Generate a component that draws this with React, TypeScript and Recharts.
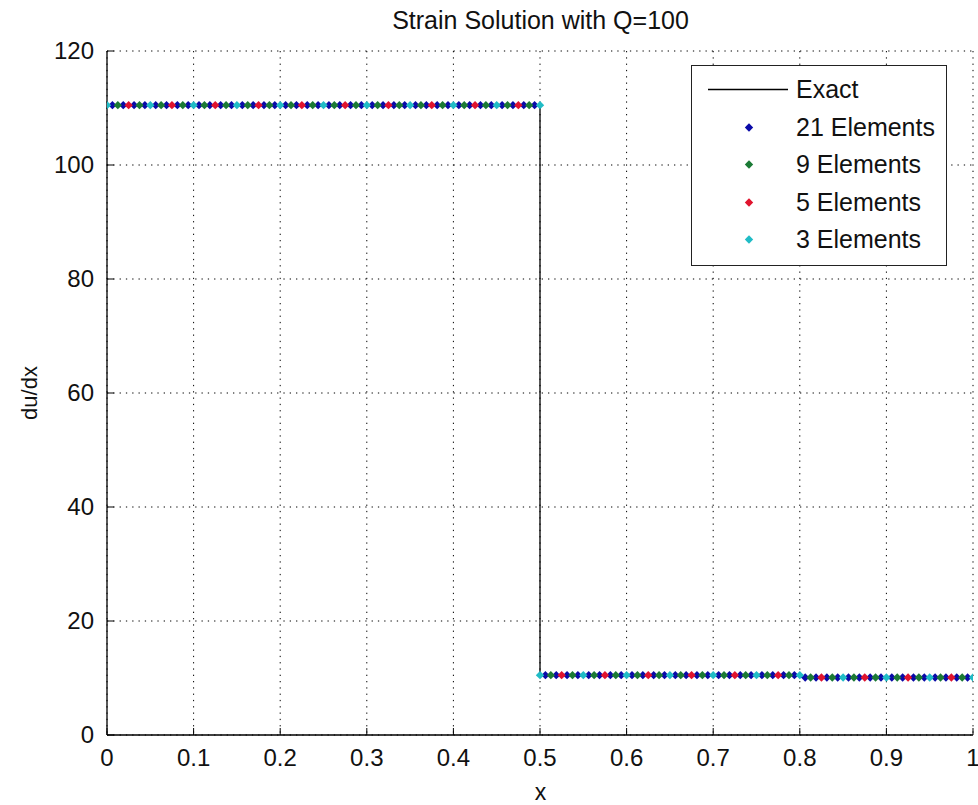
import React from "react";
import { ComposedChart, Line, Scatter, XAxis, YAxis, CartesianGrid } from "recharts";

const FONT = '"Liberation Sans", Arial, Helvetica, sans-serif';

const xTicks = [0, 0.1, 0.2, 0.3, 0.4, 0.5, 0.6, 0.7, 0.8, 0.9, 1];
const yTicks = [0, 20, 40, 60, 80, 100, 120];

// exact strain: piecewise constant
const stepEdges = [0, 0.5, 0.8, 1];
const stepLevels = [110.5, 10.5, 10.1];

// sample positions of each FE solution
const nodes3 = [0, 0.05, 0.1, 0.15, 0.2, 0.25, 0.3, 0.35, 0.4, 0.45, 0.5, 0.5, 0.55, 0.6, 0.65, 0.7, 0.75, 0.8, 0.85, 0.9, 0.95, 1];
const nodes5 = [0.025, 0.075, 0.125, 0.175, 0.225, 0.275, 0.325, 0.375, 0.425, 0.475, 0.525, 0.575, 0.625, 0.675, 0.725, 0.775, 0.825, 0.875, 0.925, 0.975];
const nodes9 = [
  0.0125, 0.0375, 0.0625, 0.0875, 0.1125, 0.1375, 0.1625, 0.1875, 0.2125, 0.2375,
  0.2625, 0.2875, 0.3125, 0.3375, 0.3625, 0.3875, 0.4125, 0.4375, 0.4625, 0.4875,
  0.5125, 0.5375, 0.5625, 0.5875, 0.6125, 0.6375, 0.6625, 0.6875, 0.7125, 0.7375,
  0.7625, 0.7875, 0.8125, 0.8375, 0.8625, 0.8875, 0.9125, 0.9375, 0.9625, 0.9875,
];
const nodes21 = [
  0.00625, 0.01875, 0.03125, 0.04375, 0.05625, 0.06875, 0.08125, 0.09375,
  0.10625, 0.11875, 0.13125, 0.14375, 0.15625, 0.16875, 0.18125, 0.19375,
  0.20625, 0.21875, 0.23125, 0.24375, 0.25625, 0.26875, 0.28125, 0.29375,
  0.30625, 0.31875, 0.33125, 0.34375, 0.35625, 0.36875, 0.38125, 0.39375,
  0.40625, 0.41875, 0.43125, 0.44375, 0.45625, 0.46875, 0.48125, 0.49375,
  0.50625, 0.51875, 0.53125, 0.54375, 0.55625, 0.56875, 0.58125, 0.59375,
  0.60625, 0.61875, 0.63125, 0.64375, 0.65625, 0.66875, 0.68125, 0.69375,
  0.70625, 0.71875, 0.73125, 0.74375, 0.75625, 0.76875, 0.78125, 0.79375,
  0.80625, 0.81875, 0.83125, 0.84375, 0.85625, 0.86875, 0.88125, 0.89375,
  0.90625, 0.91875, 0.93125, 0.94375, 0.95625, 0.96875, 0.98125, 0.99375,
];

const seriesNames = ["21 Elements", "9 Elements", "5 Elements", "3 Elements"];
const seriesColors = ["#0a0aa8", "#1b7a35", "#e0142e", "#20bcc6"];
const seriesNodes = [nodes21, nodes9, nodes5, nodes3];

const levelAt = (x: number) => {
  for (let i = 0; i < stepLevels.length; i++) {
    if (x <= stepEdges[i + 1]) return stepLevels[i];
  }
  return stepLevels[stepLevels.length - 1];
};

const exactData = stepLevels.flatMap((lv, i) => [
  { x: stepEdges[i], y: lv },
  { x: stepEdges[i + 1], y: lv },
]);

const seriesData = seriesNodes.map((nodes) =>
  nodes.map((x, i) => {
    // duplicate node at the jump: second copy takes the right-hand value
    const jump = x === 0.5 && nodes[i - 1] === 0.5;
    return { x, y: jump ? stepLevels[1] : levelAt(x) };
  })
);

const TICK = 7;
const fmtX = (v: number) => (v === 0 || v === 1 ? String(v) : v.toFixed(1));

const BottomTick = ({ x, y, payload }: any) => (
  <g>
    <line x1={x} y1={y} x2={x} y2={y - TICK} stroke="#000" />
    <text x={x} y={y + 31} textAnchor="middle" fontSize={24} fontFamily={FONT} fill="#111">
      {fmtX(payload.value)}
    </text>
  </g>
);
const TopTick = ({ x, y }: any) => <line x1={x} y1={y} x2={x} y2={y + TICK} stroke="#000" />;
const LeftTick = ({ x, y, payload }: any) => (
  <g>
    <line x1={x} y1={y} x2={x + TICK} y2={y} stroke="#000" />
    <text x={x - 13} y={y + 8} textAnchor="end" fontSize={24} fontFamily={FONT} fill="#111">
      {payload.value}
    </text>
  </g>
);
const RightTick = ({ x, y }: any) => <line x1={x} y1={y} x2={x - TICK} y2={y} stroke="#000" />;

const diamond = (color: string) => (props: any) => {
  const { cx, cy } = props;
  const r = 4.2;
  return <polygon points={`${cx},${cy - r} ${cx + r},${cy} ${cx},${cy + r} ${cx - r},${cy}`} fill={color} />;
};

export default function App() {
  return (
    <div style={{ position: "absolute", left: 0, top: 0, width: 978, height: 805, background: "#fff", fontFamily: FONT }}>
      <ComposedChart width={978} height={805} margin={{ top: 51, right: 5, bottom: 0, left: 0 }}>
        <CartesianGrid stroke="#000" strokeDasharray="1.3 5" />
        <XAxis
          type="number"
          dataKey="x"
          domain={[0, 1]}
          ticks={xTicks}
          interval={0}
          height={70}
          tickSize={0}
          tickMargin={0}
          tickLine={false}
          tick={<BottomTick />}
          axisLine={{ stroke: "#000", strokeWidth: 1.3 }}
          allowDataOverflow
        />
        <XAxis
          xAxisId="top"
          orientation="top"
          type="number"
          domain={[0, 1]}
          ticks={xTicks}
          interval={0}
          height={0}
          tickSize={0}
          tickMargin={0}
          tickLine={false}
          tick={<TopTick />}
          axisLine={{ stroke: "#000", strokeWidth: 1.3 }}
        />
        <YAxis
          type="number"
          domain={[0, 120]}
          ticks={yTicks}
          interval={0}
          width={107}
          tickSize={0}
          tickMargin={0}
          tickLine={false}
          tick={<LeftTick />}
          axisLine={{ stroke: "#000", strokeWidth: 1.3 }}
          allowDataOverflow
        />
        <YAxis
          yAxisId="right"
          orientation="right"
          type="number"
          domain={[0, 120]}
          ticks={yTicks}
          interval={0}
          width={0}
          tickSize={0}
          tickMargin={0}
          tickLine={false}
          tick={<RightTick />}
          axisLine={{ stroke: "#000", strokeWidth: 1.3 }}
        />
        <Line
          data={exactData}
          dataKey="y"
          type="linear"
          stroke="#000"
          strokeWidth={1.3}
          dot={false}
          isAnimationActive={false}
        />
        {seriesData.map((d, i) => (
          <Scatter
            key={seriesNames[i]}
            name={seriesNames[i]}
            data={d}
            dataKey="y"
            fill={seriesColors[i]}
            shape={diamond(seriesColors[i])}
            isAnimationActive={false}
          />
        ))}
      </ComposedChart>

      <div style={{ position: "absolute", left: 0, width: 1081, top: 6, textAlign: "center", fontSize: 25, color: "#111" }}>
        Strain Solution with Q=100
      </div>
      <div style={{ position: "absolute", left: 0, width: 1081, top: 779, textAlign: "center", fontSize: 23, color: "#111" }}>
        x
      </div>
      <div
        style={{
          position: "absolute",
          left: 30,
          top: 393,
          transform: "translate(-50%, -50%) rotate(-90deg)",
          fontSize: 22,
          color: "#111",
          whiteSpace: "nowrap",
        }}
      >
        du/dx
      </div>

      <div
        style={{
          position: "absolute",
          left: 691,
          top: 65,
          width: 254,
          height: 194,
          border: "1.5px solid #222",
          background: "#fff",
          paddingTop: 5,
          boxSizing: "content-box",
        }}
      >
        {["Exact", ...seriesNames].map((name, i) => (
          <div key={name} style={{ display: "flex", alignItems: "center", height: 37.5, fontSize: 25, color: "#111" }}>
            <svg width={104} height={37} style={{ flex: "none" }}>
              {i === 0 ? (
                <line x1={16} y1={18.5} x2={96} y2={18.5} stroke="#000" strokeWidth={1.3} />
              ) : (
                <polygon points="57,14.3 61.2,18.5 57,22.7 52.8,18.5" fill={seriesColors[i - 1]} />
              )}
            </svg>
            <span>{name}</span>
          </div>
        ))}
      </div>
    </div>
  );
}
